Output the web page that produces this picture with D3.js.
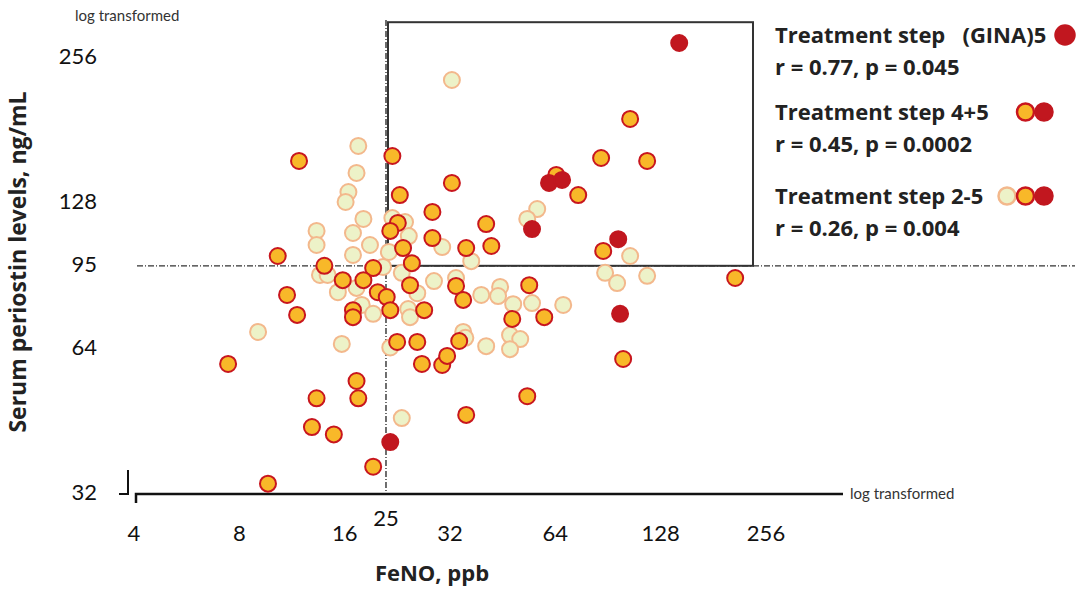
<!DOCTYPE html>
<html>
<head>
<meta charset="utf-8">
<script src="https://cdn.jsdelivr.net/npm/d3@7"></script>
<style>
    body { margin: 0; background: #fff; }
    svg text { font-family: Lato, "Open Sans", sans-serif; }
</style>
</head>
<body>
<div id="chartDiv"></div>
<script>
// FeNO (ppb) vs serum periostin (ng/mL), both on log2 scales
const xTicks = [4, 8, 16, 32, 64, 128, 256];
const yTicks = [32, 64, 95, 128, 256];
const cutFeNO = 21;       // where the "25" cut-off line sits on the drawn scale
const cutFeNOLabel = "25";
const cutPeriostin = 94;
const boxTopRight = [235, 300];

// treatment step 2-3 (pale)
const paleData = [
    [32.4, 227.8], [17.5, 166.4], [17.3, 146.3], [16.4, 133.6], [16.1, 127.4], [18.1, 117.5],
    [21.9, 118.0], [23.8, 115.8], [24.4, 108.3], [13.3, 111.0], [16.9, 109.9], [13.3, 103.8],
    [18.9, 103.8], [16.9, 99.0], [30.4, 102.8], [36.8, 96.1], [56.8, 123.2], [53.2, 117.5],
    [104.7, 98.5], [20.6, 93.5], [13.6, 90.0], [14.3, 90.0], [23.3, 90.9], [25.8, 82.5],
    [28.8, 87.4], [33.3, 88.7], [39.3, 81.8], [44.5, 85.0], [43.9, 81.4], [48.5, 78.3],
    [54.9, 78.7], [67.4, 78.0], [88.8, 90.9], [96.1, 86.6], [117.1, 89.6], [15.3, 82.9],
    [17.3, 84.6], [17.9, 78.0], [19.3, 74.8], [24.3, 76.5], [24.6, 73.6], [9.05, 68.6],
    [15.7, 64.8], [21.6, 63.7], [34.9, 68.6], [35.4, 66.7], [40.6, 64.1], [47.5, 67.6],
    [50.8, 66.3], [47.5, 63.2], [23.3, 45.5], [21.4, 100.4]
];

// treatment step 4 (orange)
const orangeData = [
    [11.85, 154.9], [21.9, 158.6], [23.0, 131.7], [28.5, 121.5], [22.7, 115.3], [21.6, 111.0],
    [28.5, 107.3], [23.5, 102.3], [24.9, 95.2], [10.3, 98.5], [14.0, 94.0], [19.3, 93.0],
    [15.8, 87.8], [18.1, 87.8], [19.9, 82.9], [21.1, 81.0], [24.6, 85.7], [10.95, 81.8],
    [11.7, 74.4], [16.9, 76.1], [16.9, 73.6], [21.6, 76.1], [27.0, 76.1], [33.3, 85.4],
    [34.9, 79.9], [53.9, 85.7], [48.2, 73.0], [59.5, 73.6], [22.6, 65.4], [25.8, 65.4],
    [34.0, 65.7], [26.6, 58.9], [30.4, 58.6], [31.4, 61.2], [7.43, 58.9], [17.3, 54.3],
    [17.5, 50.0], [13.3, 50.0], [12.9, 43.6], [14.9, 42.1], [19.3, 36.1], [9.66, 33.3],
    [53.2, 50.5], [35.6, 46.2], [100.0, 60.3], [104.7, 189.2], [86.5, 157.1], [117.1, 154.9],
    [32.4, 139.5], [64.4, 144.9], [74.4, 131.7], [40.6, 114.7], [35.6, 102.3], [42.0, 103.3],
    [87.7, 100.9], [209, 88.7]
];

// treatment step 5 (red)
const redData = [
    [144.6, 271.7], [61.4, 139.5], [66.9, 141.5], [54.9, 112.0], [96.8, 106.7], [98.0, 74.8],
    [21.6, 40.6]
];

const legendRows = [
    {title: "Treatment step   (GINA)5", stat: "r = 0.77, p = 0.045", dots: ["red"], y: 43},
    {title: "Treatment step 4+5", stat: "r = 0.45, p = 0.0002", dots: ["orange", "red"], y: 120},
    {title: "Treatment step 2-5", stat: "r = 0.26, p = 0.004", dots: ["pale", "orange", "red"], y: 204}
];

const dotStyle = {
    pale: {fill: "#edf2c8", stroke: "#f3b88c"},
    orange: {fill: "#f8b829", stroke: "#c8161e"},
    red: {fill: "#c1171f", stroke: "#c1171f"}
};

let width = 1086;
let height = 590;

let svg = d3.select("#chartDiv").append("svg")
    .attr("width", width)
    .attr("height", height);

let x = d3.scaleLog().base(2)
    .domain([4, 256])
    .range([134, 766]);

let y = d3.scaleLog().base(2)
    .domain([32, 256])
    .range([492, 55.5]);

// highlighted quadrant box
svg.append("rect")
    .attr("x", x(cutFeNO) + 2)
    .attr("y", y(boxTopRight[1]))
    .attr("width", x(boxTopRight[0]) - x(cutFeNO) - 2)
    .attr("height", y(cutPeriostin) - y(boxTopRight[1]))
    .attr("fill", "none")
    .attr("stroke", "#333")
    .attr("stroke-width", 2);

// cut-off lines
svg.append("line")
    .attr("x1", x(cutFeNO)).attr("x2", x(cutFeNO))
    .attr("y1", 20).attr("y2", 492)
    .attr("stroke", "#222")
    .attr("stroke-width", 1.3)
    .attr("stroke-dasharray", "6,2,1,2");

svg.append("line")
    .attr("x1", 137).attr("x2", 1075)
    .attr("y1", y(cutPeriostin)).attr("y2", y(cutPeriostin))
    .attr("stroke", "#333")
    .attr("stroke-width", 1.3)
    .attr("stroke-dasharray", "6,2,1,2");

// x axis line
svg.append("path")
    .attr("d", "M136,503V494H843")
    .attr("fill", "none")
    .attr("stroke", "#111")
    .attr("stroke-width", 2.5);

// little piece of y axis at the bottom
svg.append("path")
    .attr("d", "M119,494H128V470")
    .attr("fill", "none")
    .attr("stroke", "#111")
    .attr("stroke-width", 2);

svg.selectAll(".xTick")
    .data(xTicks)
    .enter().append("text")
    .attr("class", "xTick")
    .attr("x", function(d) { return x(d); })
    .attr("y", 541)
    .attr("text-anchor", "middle")
    .style("font-size", "22px")
    .attr("fill", "#111")
    .text(function(d) { return d; });

svg.append("text")
    .attr("x", x(cutFeNO))
    .attr("y", 526)
    .attr("text-anchor", "middle")
    .style("font-size", "22px")
    .attr("fill", "#111")
    .text(cutFeNOLabel);

svg.selectAll(".yTick")
    .data(yTicks)
    .enter().append("text")
    .attr("class", "yTick")
    .attr("x", 97)
    .attr("y", function(d) { return y(d) + 8; })
    .attr("text-anchor", "end")
    .style("font-size", "22px")
    .attr("fill", "#111")
    .text(function(d) { return d; });

svg.append("text")
    .attr("x", 75).attr("y", 21)
    .style("font-size", "15px")
    .attr("fill", "#333")
    .text("log transformed");

svg.append("text")
    .attr("x", 850).attr("y", 499)
    .style("font-size", "15px")
    .attr("fill", "#333")
    .text("log transformed");

// axis titles
svg.append("text")
    .attr("transform", "translate(26,262)rotate(-90)")
    .attr("text-anchor", "middle")
    .style("font-family", "'Open Sans', sans-serif")
    .style("font-weight", "bold")
    .style("font-size", "23px")
    .attr("fill", "#222")
    .text("Serum periostin levels, ng/mL");

svg.append("text")
    .attr("x", 432).attr("y", 581)
    .attr("text-anchor", "middle")
    .style("font-family", "'Open Sans', sans-serif")
    .style("font-weight", "bold")
    .style("font-size", "22px")
    .attr("fill", "#222")
    .text("FeNO, ppb");

// points: pale first, red on top
function drawDots(data, kind) {
    svg.append("g")
        .selectAll("circle")
        .data(data)
        .enter().append("circle")
        .attr("cx", function(d) { return x(d[0]); })
        .attr("cy", function(d) { return y(d[1]); })
        .attr("r", 8)
        .attr("fill", dotStyle[kind].fill)
        .attr("stroke", dotStyle[kind].stroke)
        .attr("stroke-width", 2);
}

drawDots(paleData, "pale");
drawDots(orangeData, "orange");
drawDots(redData, "red");

// legend
let legend = svg.append("g");
legendRows.forEach(function(row) {
    legend.append("text")
        .attr("x", 775).attr("y", row.y)
        .style("font-family", "'Open Sans', sans-serif")
        .style("font-weight", "bold")
        .style("font-size", "22px")
        .style("white-space", "pre")
        .attr("fill", "#222")
        .text(row.title);
    legend.append("text")
        .attr("x", 775).attr("y", row.y + 32)
        .style("font-family", "'Open Sans', sans-serif")
        .style("font-weight", "bold")
        .style("font-size", "22px")
        .attr("fill", "#222")
        .text(row.stat);
    let n = row.dots.length;
    row.dots.forEach(function(kind, i) {
        legend.append("circle")
            .attr("cx", 1044 - (n - 1 - i) * 18.5 + (n === 1 ? 21 : 0))
            .attr("cy", row.y - 8)
            .attr("r", n === 1 ? 9.5 : 8.5)
            .attr("fill", dotStyle[kind].fill)
            .attr("stroke", dotStyle[kind].stroke)
            .attr("stroke-width", 2.5);
    });
});
</script>
</body>
</html>
